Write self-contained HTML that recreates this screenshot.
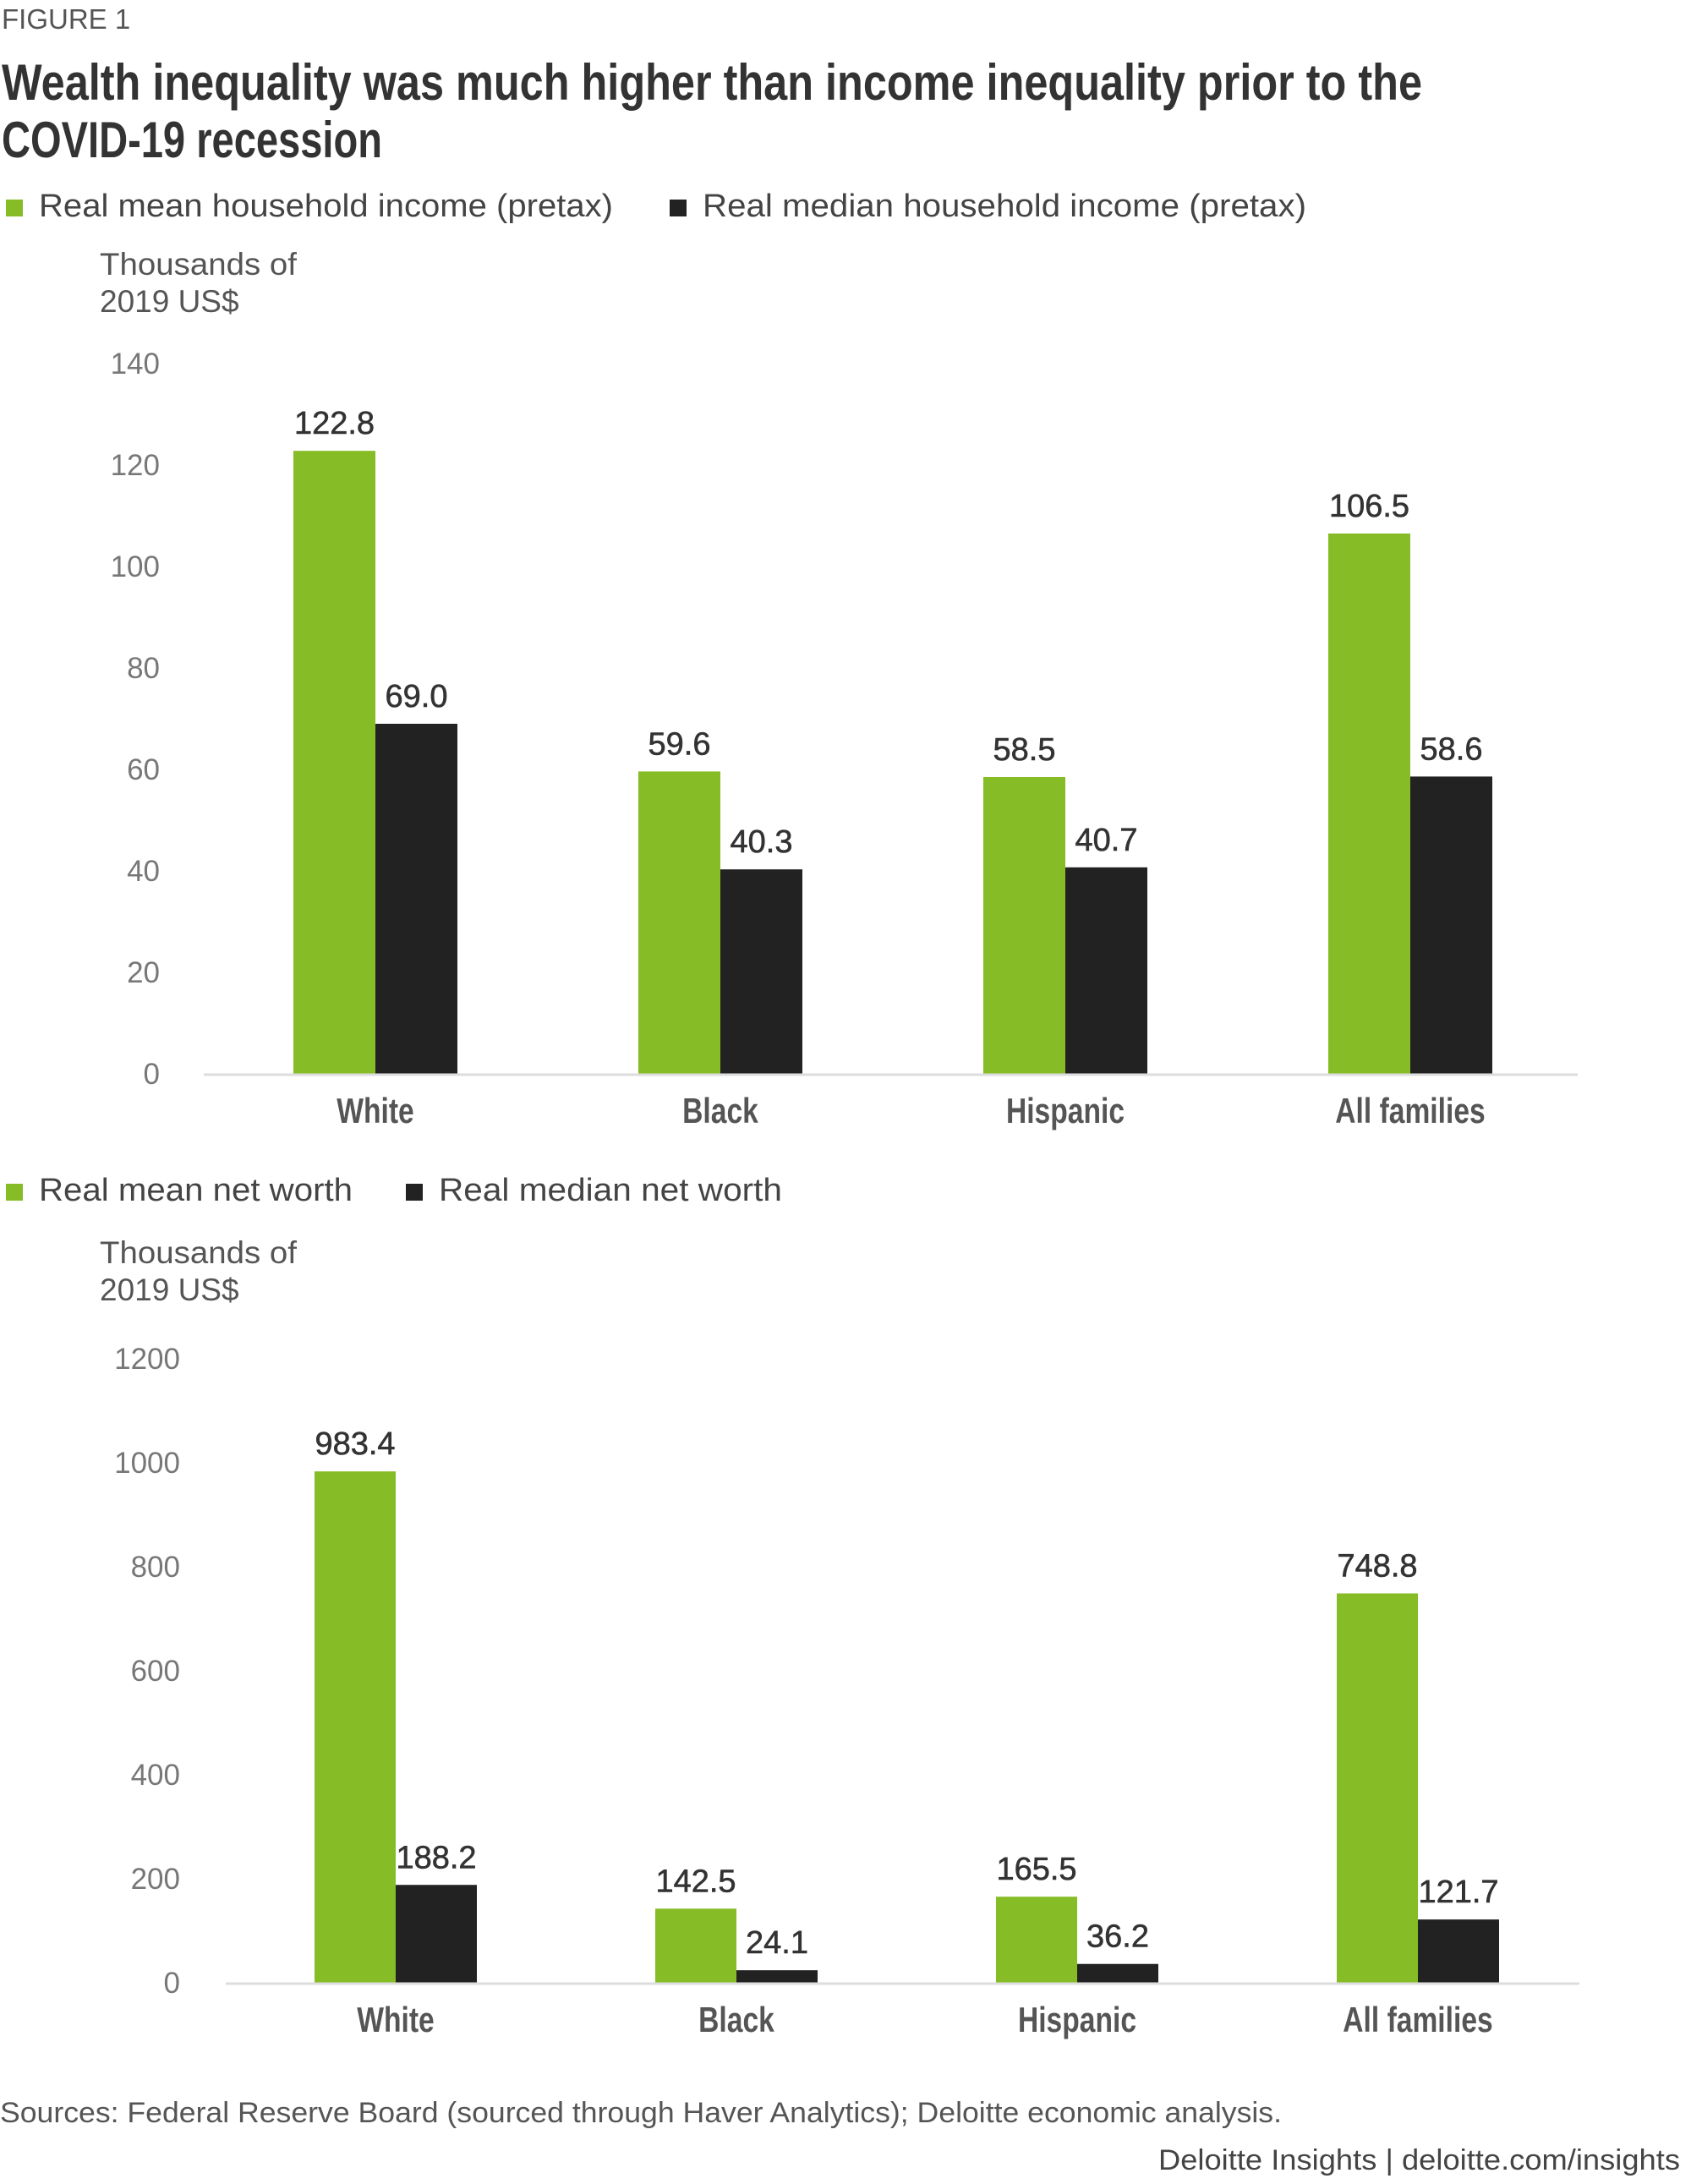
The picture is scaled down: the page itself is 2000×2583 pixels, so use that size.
<!DOCTYPE html>
<html><head><meta charset="utf-8"><style>
html,body{margin:0;padding:0;background:#fff;}
svg{display:block;}
text{font-family:"Liberation Sans",sans-serif;}
.cond{font-family:"Liberation Sans Narrow","Liberation Sans",sans-serif;}
</style></head><body>
<svg id="c" width="2000" height="2583" viewBox="0 0 2000 2583" xmlns="http://www.w3.org/2000/svg">
<text x="2" y="34" font-size="33" fill="#555">FIGURE 1</text>
<text class="cond" x="2" y="118" font-size="60" font-weight="bold" fill="#333" textLength="1680" lengthAdjust="spacingAndGlyphs">Wealth inequality was much higher than income inequality prior to the</text>
<text class="cond" x="2" y="186" font-size="60" font-weight="bold" fill="#333" textLength="450" lengthAdjust="spacingAndGlyphs">COVID-19 recession</text>
<text x="0" y="2510" font-size="34" fill="#555" textLength="1516" lengthAdjust="spacingAndGlyphs">Sources: Federal Reserve Board (sourced through Haver Analytics); Deloitte economic analysis.</text>
<text x="1987" y="2566" font-size="34" fill="#444" text-anchor="end" textLength="617" lengthAdjust="spacingAndGlyphs">Deloitte Insights | deloitte.com/insights</text>
</svg>
<script>
const categories = ["White","Black","Hispanic","All families"];
const incomeMean = [122.8,59.6,58.5,106.5];
const incomeMedian = [69.0,40.3,40.7,58.6];
const incomeTicks = [0,20,40,60,80,100,120,140];
const worthMean = [983.4,142.5,165.5,748.8];
const worthMedian = [188.2,24.1,36.2,121.7];
const worthTicks = [0,200,400,600,800,1000,1200];

const svg = document.getElementById('c');
const NS = 'http://www.w3.org/2000/svg';
function mk(tag, attrs, txt){
  const e = document.createElementNS(NS, tag);
  for (const k in attrs) e.setAttribute(k, attrs[k]);
  if (txt !== undefined) e.textContent = txt;
  svg.appendChild(e);
  return e;
}
function chart(cfg){
  const y = v => cfg.base - (v - 0) / cfg.max * (cfg.base - cfg.top);
  const x = i => cfg.x0 + i * cfg.step;
  let e;
  e = mk('rect',{x:7,y:cfg.legY-20,width:20,height:20,fill:'#86bc25'});
  
  
  e = mk('text',{x:46,y:cfg.legY,'font-size':38,fill:'#444',textLength:cfg.legAw,lengthAdjust:'spacingAndGlyphs'},cfg.legA);
  
  
  e = mk('rect',{x:cfg.leg2x,y:cfg.legY-20,width:20,height:20,fill:'#222'});
  
  
  e = mk('text',{x:cfg.leg2x+39,y:cfg.legY,'font-size':38,fill:'#444',textLength:cfg.legBw,lengthAdjust:'spacingAndGlyphs'},cfg.legB);
  
  
  e = mk('text',{x:118,y:cfg.titleY,'font-size':37,fill:'#555',textLength:233,lengthAdjust:'spacingAndGlyphs'},'Thousands of');
  
  
  e = mk('text',{x:118,y:cfg.titleY+44,'font-size':37,fill:'#555'},'2019 US$');
  
  
  cfg.ticks.forEach(t=>{
    const l = mk('text',{x:cfg.tickX,y:y(t)+12,'font-size':35,fill:'#777','text-anchor':'end'},String(t));
    
    
  });
  categories.forEach((c,i)=>{
    const cx = x(i);
    const vm = cfg.mean[i], vd = cfg.median[i];
    let b = mk('rect',{x:cx-cfg.bw,y:y(vm),width:cfg.bw,height:cfg.base-y(vm),fill:'#86bc25'});
    
    
    b = mk('rect',{x:cx,y:y(vd),width:cfg.bw,height:cfg.base-y(vd),fill:'#222'});
    
    
    let t = mk('text',{x:cx-cfg.bw/2,y:y(vm)-20,'font-size':38,fill:'#333','text-anchor':'middle','stroke':'#333','stroke-width':0.6},vm.toFixed(1));
    
    
    t = mk('text',{x:cx+cfg.bw/2,y:y(vd)-20,'font-size':38,fill:'#333','text-anchor':'middle','stroke':'#333','stroke-width':0.6},vd.toFixed(1));
    
    
    t = mk('text',{x:cx,y:cfg.base+58,'font-size':42,fill:'#555','text-anchor':'middle','font-weight':'bold','class':'cond'},c);
    
    
    const w = t.getComputedTextLength();
    t.setAttribute('textLength', (w*0.8).toFixed(1));
    t.setAttribute('lengthAdjust', 'spacingAndGlyphs');
  });
  e = mk('line',{x1:cfg.ax1,x2:cfg.ax2,y1:cfg.base+1,y2:cfg.base+1,stroke:'#ddd','stroke-width':3});
  
  
}
chart({mean:incomeMean,median:incomeMedian,ticks:incomeTicks,max:140,base:1270,top:430,
  x0:444,step:406.5+1.5,bw:97,tickX:189,ax1:241,ax2:1866,legY:256,leg2x:792,legAw:679,legBw:714,
  legA:'Real mean household income (pretax)',legB:'Real median household income (pretax)',titleY:325});
chart({mean:worthMean,median:worthMedian,ticks:worthTicks,max:1200,base:2345,top:1607,
  x0:468,step:403,bw:96,tickX:213,ax1:267,ax2:1868,legY:1420,leg2x:480,legAw:371,legBw:406,
  legA:'Real mean net worth',legB:'Real median net worth',titleY:1494});
</script>
</body></html>
